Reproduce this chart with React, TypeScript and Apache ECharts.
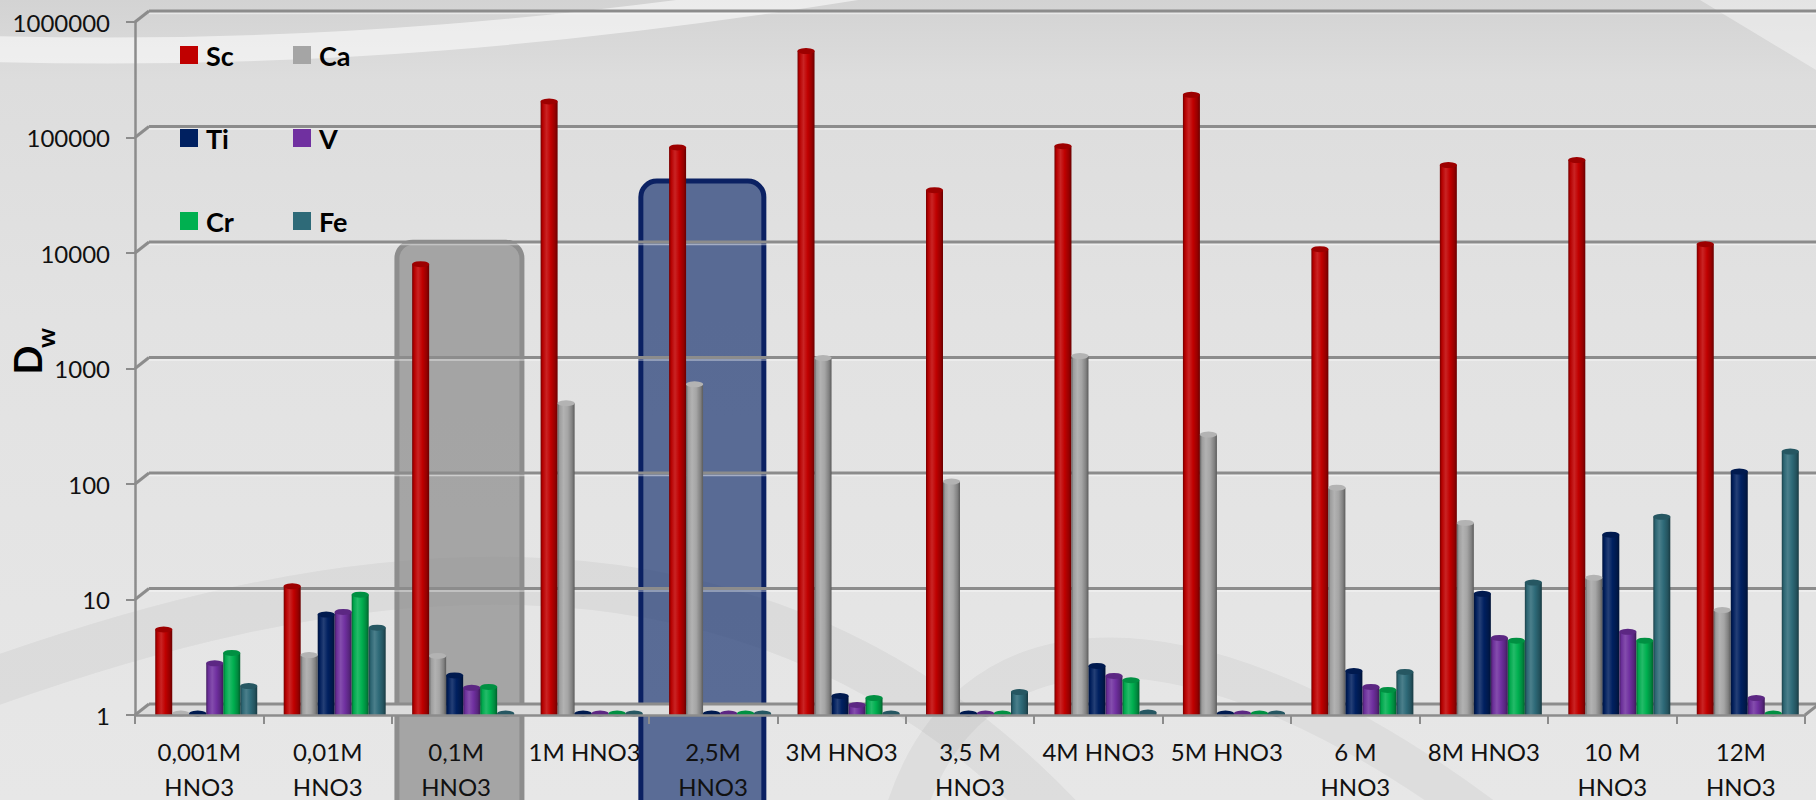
import React, { useEffect, useRef } from "react";
import * as echarts from "echarts";

// Extraction conditions (x axis)
const categories = [
  "0,001M\nHNO3",
  "0,01M\nHNO3",
  "0,1M\nHNO3",
  "1M HNO3",
  "2,5M\nHNO3",
  "3M HNO3",
  "3,5 M\nHNO3",
  "4M HNO3",
  "5M HNO3",
  "6 M\nHNO3",
  "8M HNO3",
  "10 M\nHNO3",
  "12M\nHNO3",
];

// Distribution ratios D_w per element
const sc = [5.5, 13, 8000, 205000, 82000, 560000, 35000, 84000, 234000, 10800, 57700, 63800, 11900];
const ca = [1.03, 3.3, 3.25, 500, 730, 1230, 105, 1280, 268, 93, 46, 15.4, 8.1];
const ti = [1.03, 7.4, 2.2, 1.03, 1.03, 1.46, 1.03, 2.66, 1.03, 2.4, 11.2, 36.4, 128];
const v = [2.8, 7.8, 1.72, 1.03, 1.03, 1.22, 1.03, 2.18, 1.03, 1.75, 4.65, 5.25, 1.4];
const cr = [3.45, 11, 1.75, 1.03, 1.03, 1.4, 1.03, 2.0, 1.03, 1.65, 4.4, 4.4, 1.03];
const fe = [1.78, 5.7, 1.03, 1.03, 1.03, 1.03, 1.58, 1.05, 1.03, 2.36, 14, 52, 191];

const elementNames = ["Sc", "Ca", "Ti", "V", "Cr", "Fe"];
const elementValues = [sc, ca, ti, v, cr, fe];

// Log axis tick values
const yTicks = [1, 10, 100, 1000, 10000, 100000, 1000000];

// Highlighted conditions and the value level where each frame starts
const highlightCats = [2, 4];
const highlightTops = [12400, 42000];

// ---- styling ----
const colors = ["#c00000", "#a5a5a5", "#002060", "#7030a0", "#00b050", "#2e6a78"];
const FONT = "Lato";
const DEPTH_X = 14; // back wall offset of the pseudo-3D frame
const DEPTH_Y = 11;
const GRID_COLOR = "#8c8c8c";
const BAR_W = 17;
const highlightStyles = [
  { dx: 5, width: 125, fill: "rgba(140,140,140,0.72)", stroke: "#8d8d8d" },
  { dx: -8, width: 123, fill: "rgba(30,55,115,0.7)", stroke: "#0b2163" },
];

function mix(hex: string, t: number): string {
  const n = parseInt(hex.slice(1), 16);
  let r = (n >> 16) & 255;
  let g = (n >> 8) & 255;
  let b = n & 255;
  const target = t < 0 ? 0 : 255;
  const a = Math.abs(t);
  r = Math.round(r + (target - r) * a);
  g = Math.round(g + (target - g) * a);
  b = Math.round(b + (target - b) * a);
  return "#" + ((1 << 24) | (r << 16) | (g << 8) | b).toString(16).slice(1);
}

function cylinder(c: string) {
  return new echarts.graphic.LinearGradient(0, 0, 1, 0, [
    { offset: 0, color: mix(c, -0.4) },
    { offset: 0.12, color: mix(c, -0.05) },
    { offset: 0.35, color: mix(c, 0.14) },
    { offset: 0.6, color: c },
    { offset: 0.85, color: mix(c, -0.22) },
    { offset: 1, color: mix(c, -0.45) },
  ]);
}

function buildOption() {
  const barSeries = elementNames.map((name, i) => ({
    name,
    type: "bar",
    xAxisIndex: 1,
    yAxisIndex: 1,
    data: elementValues[i],
    barWidth: BAR_W,
    barGap: "0%",
    z: 5,
    itemStyle: { color: cylinder(colors[i]) },
  }));

  const capSeries = elementNames.map((name, i) => ({
    name: name + " top",
    type: "pictorialBar",
    xAxisIndex: 1,
    yAxisIndex: 1,
    data: elementValues[i],
    barWidth: BAR_W,
    barGap: "0%",
    symbol: "circle",
    symbolSize: [BAR_W, 6],
    symbolPosition: "end",
    symbolOffset: [0, "-50%"],
    z: 6,
    itemStyle: { color: mix(colors[i], i === 1 ? 0.15 : -0.18) },
  }));

  const gridSeries = {
    type: "custom",
    xAxisIndex: 0,
    yAxisIndex: 0,
    z: 3,
    silent: true,
    data: yTicks.map((t) => [0, t]),
    encode: { x: 0, y: 1 },
    renderItem: (params: any, api: any) => {
      const val = api.value(1);
      const y = api.coord([0, val])[1];
      const cs = params.coordSys;
      const x0 = cs.x;
      const x1 = cs.x + cs.width;
      const lineStyle = { stroke: GRID_COLOR, lineWidth: 3 };
      if (val === yTicks[0]) {
        return {
          type: "group",
          children: [
            {
              type: "polygon",
              shape: {
                points: [
                  [x0, y],
                  [x1, y],
                  [x1 + DEPTH_X, y - DEPTH_Y],
                  [x0 + DEPTH_X, y - DEPTH_Y],
                ],
              },
              style: { fill: "#dcdcdc" },
            },
            { type: "line", shape: { x1: x0 + DEPTH_X, y1: y - DEPTH_Y, x2: x1 + DEPTH_X, y2: y - DEPTH_Y }, style: lineStyle },
            { type: "line", shape: { x1: x0, y1: y, x2: x0 + DEPTH_X, y2: y - DEPTH_Y }, style: lineStyle },
            { type: "line", shape: { x1: x1, y1: y, x2: x1 + DEPTH_X, y2: y - DEPTH_Y }, style: lineStyle },
          ],
        };
      }
      return {
        type: "group",
        children: [
          { type: "line", shape: { x1: x0, y1: y, x2: x0 + DEPTH_X, y2: y - DEPTH_Y }, style: lineStyle },
          { type: "line", shape: { x1: x0 + DEPTH_X, y1: y - DEPTH_Y, x2: x1 + DEPTH_X, y2: y - DEPTH_Y }, style: lineStyle },
          {
            type: "line",
            shape: { x1: x0 + DEPTH_X, y1: y - DEPTH_Y + 2.5, x2: x1 + DEPTH_X, y2: y - DEPTH_Y + 2.5 },
            style: { stroke: "rgba(255,255,255,0.45)", lineWidth: 1.5 },
          },
        ],
      };
    },
  };

  const frameSeries = {
    type: "custom",
    xAxisIndex: 0,
    yAxisIndex: 0,
    z: 1,
    silent: true,
    data: highlightCats.map((c, i) => [c, highlightTops[i]]),
    encode: { x: 0, y: 1 },
    renderItem: (params: any, api: any) => {
      const s = highlightStyles[params.dataIndex];
      const pt = api.coord([api.value(0), api.value(1)]);
      const band = api.size([1, 0])[0];
      const left = pt[0] - band / 2 + s.dx;
      return {
        type: "rect",
        shape: { x: left, y: pt[1], width: s.width, height: 900 - pt[1], r: 16 },
        style: { fill: s.fill, stroke: s.stroke, lineWidth: 5 },
      };
    },
  };

  const legendText = {
    fontFamily: FONT,
    fontWeight: "bold",
    fontSize: 27,
    color: "#000",
    lineHeight: 30,
    padding: [0, 0, 0, 3],
  };
  const legendItems = (names: string[]) =>
    names.map((n) => ({ name: n, itemStyle: { color: colors[elementNames.indexOf(n)] } }));

  const legendBase = {
    orient: "vertical",
    top: 40,
    padding: 0,
    itemWidth: 18,
    itemHeight: 18,
    itemGap: 53,
    icon: "rect",
    textStyle: legendText,
    selectedMode: false,
  };

  return {
    animation: false,
    backgroundColor: "transparent",
    textStyle: { fontFamily: FONT },
    grid: [
      { left: 135, right: 11, top: 22, bottom: 85, outerBoundsMode: "none" },
      { left: 142, right: 4, top: 22, bottom: 85, outerBoundsMode: "none" },
    ],
    legend: [
      { ...legendBase, left: 180, data: legendItems(["Sc", "Ti", "Cr"]) },
      { ...legendBase, left: 293, data: legendItems(["Ca", "V", "Fe"]) },
    ],
    xAxis: [
      {
        type: "category",
        gridIndex: 0,
        data: categories,
        z: 10,
        axisLine: { show: true, lineStyle: { color: GRID_COLOR, width: 2.5 } },
        axisTick: { show: true, length: 9, lineStyle: { color: GRID_COLOR, width: 2 } },
        axisLabel: {
          interval: 0,
          margin: 19,
          fontFamily: FONT,
          fontSize: 24,
          lineHeight: 35,
          color: "#111",
        },
        splitLine: { show: false },
      },
      { type: "category", gridIndex: 1, data: categories, show: false },
    ],
    yAxis: [
      {
        type: "log",
        gridIndex: 0,
        logBase: 10,
        min: yTicks[0],
        max: yTicks[yTicks.length - 1],
        splitNumber: 6,
        z: 10,
        axisLine: { show: true, lineStyle: { color: GRID_COLOR, width: 2.5 } },
        axisTick: { show: true, length: 9, lineStyle: { color: GRID_COLOR, width: 2 } },
        axisLabel: {
          margin: 25,
          fontFamily: FONT,
          fontSize: 24,
          color: "#111",
          formatter: (val: number) => String(Math.round(val)),
        },
        splitLine: { show: false },
      },
      {
        type: "log",
        gridIndex: 1,
        logBase: 10,
        min: yTicks[0],
        max: yTicks[yTicks.length - 1],
        splitNumber: 6,
        show: false,
        splitLine: { show: false },
      },
    ],
    graphic: [
      // soft decorative swooshes in the backdrop
      {
        type: "bezierCurve",
        silent: true,
        z: -5,
        shape: { x1: -40, y1: 48, cpx1: 300, cpy1: 60, cpx2: 600, cpy2: 30, x2: 900, y2: -20 },
        style: { stroke: "rgba(255,255,255,0.55)", lineWidth: 26, fill: "none" },
      },
      {
        type: "polygon",
        silent: true,
        z: -5,
        shape: { points: [[1700, 0], [1816, 0], [1816, 70]] },
        style: { fill: "rgba(255,255,255,0.4)" },
      },
      {
        type: "bezierCurve",
        silent: true,
        z: -5,
        shape: { x1: -30, y1: 690, cpx1: 300, cpy1: 570, cpx2: 750, cpy2: 470, x2: 1080, y2: 840 },
        style: { stroke: "rgba(0,0,0,0.045)", lineWidth: 48, fill: "none" },
      },
      {
        type: "bezierCurve",
        silent: true,
        z: -5,
        shape: { x1: 900, y1: 830, cpx1: 960, cpy1: 600, cpx2: 1200, cpy2: 600, x2: 1500, y2: 830 },
        style: { stroke: "rgba(0,0,0,0.04)", lineWidth: 40, fill: "none" },
      },
      // y axis title D with subscript w
      {
        type: "text",
        x: 27,
        y: 360,
        rotation: Math.PI / 2,
        style: {
          text: "D",
          font: "bold 38px Lato",
          fill: "#000",
          align: "center",
          verticalAlign: "middle",
        },
      },
      {
        type: "text",
        x: 45,
        y: 338,
        rotation: Math.PI / 2,
        style: {
          text: "w",
          font: "bold 25px Lato",
          fill: "#000",
          align: "center",
          verticalAlign: "middle",
        },
      },
    ],
    series: [frameSeries, gridSeries, ...barSeries, ...capSeries],
  };
}

export default function App() {
  const ref = useRef<HTMLDivElement>(null);
  useEffect(() => {
    if (!ref.current) return;
    const chart = echarts.init(ref.current, null, { renderer: "svg" });
    chart.setOption(buildOption() as any);
    return () => chart.dispose();
  }, []);
  return (
    <div
      ref={ref}
      style={{
        position: "fixed",
        left: 0,
        top: 0,
        width: 1816,
        height: 800,
        background: "linear-gradient(180deg, #d3d3d3 0%, #dddddd 10%, #e2e2e2 40%, #e7e7e7 100%)",
      }}
    />
  );
}
